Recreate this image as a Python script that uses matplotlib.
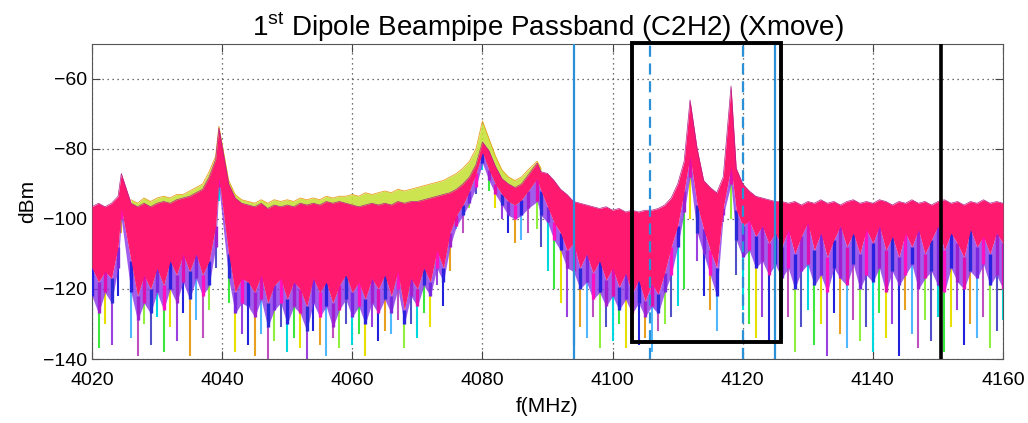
import numpy as np
import matplotlib
matplotlib.use("Agg")
import matplotlib.pyplot as plt
import matplotlib.patches as patches

plt.rcParams["font.family"] = ["Liberation Sans Narrow", "Liberation Sans", "DejaVu Sans"]
plt.rcParams["mathtext.fontset"] = "custom"
plt.rcParams["mathtext.rm"] = "Liberation Sans"

# frequency grid (MHz), 1 MHz steps with the resonance peaks at their read positions
freq = np.arange(4020, 4161).astype(float)
peak_idx = [5, 20, 68, 92, 98]
peak_freq = [4024.5, 4039.5, 4088.4, 4111.9, 4118.2]
freq[peak_idx] = peak_freq

# upper envelope of the bulk of the traces (dBm)
top = [
    -96.5, -95.5, -96.5, -95.5, -93.5, -87, -95.5, -96.5, -95.5, -96.5,
    -95.5, -95, -95.5, -94.5, -94, -93.5, -92.5, -91.5, -88, -83,
    -74, -90, -94, -95.5, -96, -96.5, -95.5, -97, -96, -96.5,
    -96, -96.5, -95.5, -96, -95.5, -96, -95, -95.5, -95, -95.5,
    -96, -96.5, -96, -95.5, -96, -95.5, -96, -95, -95.5, -95,
    -95, -94.5, -94, -93.5, -93, -92.5, -91.5, -90, -88, -84.5,
    -78, -80.5, -85, -88.5, -90, -91, -90, -87.5, -84, -86.5,
    -87, -89, -91.5, -93, -95, -95.5, -96, -96.5, -97, -96.5,
    -97.5, -97, -98, -97.5, -98, -97.5, -97.5, -97, -96, -94,
    -90, -83.5, -66, -80, -89, -91, -92.5, -88, -62, -85.5,
    -90, -92, -93.5, -94, -94.5, -95, -95, -95.5, -95, -96,
    -95, -95.5, -94.5, -95.5, -95, -96, -95, -94.5, -95.5, -95,
    -95.5, -94.5, -95, -96, -95, -95.5, -94.5, -95.5, -95, -96,
    -95, -94.5, -95.5, -95, -96, -95, -95.5, -94.5, -95.5, -95, -95.5,
]

# lower edge of the dense pink/red traces
pink_low = [
    -114, -118, -115, -117, -108, -97, -112, -122, -116, -120,
    -114, -119, -112, -116, -110, -115, -110, -116, -112, -102,
    -88, -110, -121, -117, -118, -121, -116, -124, -119, -117,
    -123, -118, -120, -125, -117, -121, -118, -124, -119, -116,
    -121, -118, -123, -117, -120, -116, -122, -115, -126, -117,
    -120, -114, -118, -109, -114, -104, -99, -96, -92, -87,
    -81, -86, -90, -93, -95, -96, -94.5, -92, -88.5, -92,
    -96.5, -101, -104, -109, -107, -114, -110, -115.5, -112, -117.5,
    -114, -119.5, -115.5, -121.5, -117.5, -123.5, -118.5, -121.5, -115.5, -108,
    -102, -92, -82, -96, -103, -109, -114, -97, -85, -97.5,
    -102, -100.5, -105, -102, -107, -104, -108, -103, -110, -105,
    -101, -109, -104, -111, -106, -102, -108, -104, -110, -103,
    -107, -102, -109, -105, -111, -104, -108, -103, -110, -106,
    -102, -109, -104, -107, -111, -103, -108, -105, -110, -104, -107,
]

# lower edge of the blue/purple traces
blue_low = [
    -122, -127, -121, -124, -114, -100, -121, -129, -124, -127,
    -121, -126, -120, -124, -118, -123, -117, -122, -119, -108,
    -91, -117, -127, -124, -125, -128, -123, -131, -126, -124,
    -130, -125, -127, -132, -124, -128, -125, -131, -126, -123,
    -128, -125, -130, -124, -127, -123, -127, -120, -130, -122,
    -125, -119, -122, -114, -118, -108, -102, -99, -95.5, -91,
    -84, -89, -93, -96, -99, -100, -99, -97, -95, -99,
    -101, -106, -109, -114, -115, -120, -118, -123, -121, -125,
    -122, -126, -123, -127, -124, -128, -125, -127, -121, -116,
    -108, -98, -88, -104, -110, -116, -122, -99, -90, -106,
    -111, -109, -114, -112, -116, -113, -117, -114, -120, -115,
    -113, -119, -116, -121, -114, -117, -119, -113, -120, -116,
    -118, -114, -121, -115, -119, -116, -113, -120, -117, -115,
    -119, -121, -114, -118, -120, -115, -117, -113, -119, -116, -120,
]

# deepest dips of the individual traces
deep_low = [
    -133, -137, -130, -136, -122, -104, -134, -139, -130, -136,
    -128, -138, -131, -135, -127, -139, -129, -134, -126, -114,
    -95, -124, -138, -133, -136, -139, -133, -140, -135, -131,
    -138, -134, -137, -140, -132, -136, -139, -134, -137, -130,
    -136, -133, -139, -131, -135, -132, -133, -129, -137, -130,
    -134, -127, -131, -119, -125, -115, -103, -104, -97, -93,
    -86, -92, -97, -100, -104, -107, -106, -104, -103, -108,
    -115, -120, -124, -128, -136, -131, -134, -128, -137, -131,
    -135, -130, -137, -133, -136, -134, -138, -132, -130, -128,
    -125, -120, -100, -112, -122, -126, -132, -101, -100, -116,
    -126, -130, -134, -128, -135, -131, -134, -128, -138, -131,
    -126, -136, -130, -139, -127, -133, -137, -129, -135, -131,
    -138, -127, -134, -130, -139, -126, -133, -137, -129, -135,
    -128, -138, -131, -126, -136, -130, -134, -128, -137, -132, -129,
]

# yellow/green traces sticking out above the bulk, 4026..4089 MHz
fringe_top = [
    -94.5, -95.5, -94, -95, -94, -93.5, -94, -93, -93, -92,
    -91, -90, -86.5, -82, -73.5, -89, -93, -94.5,
    -95, -95.5, -94.5, -95.5, -94.5, -95, -94.5, -95, -94, -94.5, -94, -94.5, -93.5, -94, -93.5, -93.5,
    -93, -93.5, -92.5, -93, -92.5, -92, -92.5, -91.5, -92, -91.5,
    -91, -90.5, -90, -89.5, -89, -88, -87, -85.5, -83.5, -80,
    -72, -77, -82, -86, -88, -89, -88, -86, -83.5, -85.5,
]
fringe_slice = slice(6, 70)

# marker lines (MHz)
solid_marks = [4094.1, 4125.0]
dashed_marks = [4105.8, 4120.0]
black_mark = 4150.5
box_f = (4103.0, 4125.9)
box_db = (-135.1, -49.8)

palette = ["#00d8e0", "#3ce83c", "#e8e000", "#9a3fe0", "#2222dd", "#e8a020",
           "#50b8ff", "#c050c0", "#90f040", "#5050c8"]
mid_palette = ["#2a20e0", "#a020d0", "#e010b0", "#2a2ad8", "#7a28e0", "#ff10c0"]

fig = plt.figure(figsize=(10.28, 4.23), dpi=100)
ax = fig.add_axes([0.0895, 0.1513, 0.8862, 0.7447])

f = freq
colors = [palette[i % len(palette)] for i in range(len(f))]
mid_colors = [mid_palette[i % len(mid_palette)] for i in range(len(f))]
ax.vlines(f, deep_low, blue_low, colors=colors, lw=1.5, zorder=1)
ax.fill_between(f[fringe_slice], fringe_top, np.array(pink_low)[fringe_slice],
                color="#c4e030", alpha=0.85, lw=0, zorder=2)
ax.plot(f[fringe_slice], fringe_top, color="#e8a020", lw=0.6, zorder=2)
ax.fill_between(f, pink_low, blue_low, color="#8a34e6", alpha=0.8, lw=0, zorder=3)
ax.vlines(f, blue_low, pink_low, colors=mid_colors, lw=2.4, zorder=3)
ax.fill_between(f, top, pink_low, color="#ff1a70", lw=0, zorder=4)
ax.plot(f, top, color="#b0208a", lw=0.5, zorder=4)

for x in solid_marks:
    ax.axvline(x, color="#2a90d8", lw=1.6, zorder=5)
for x in dashed_marks:
    ax.axvline(x, color="#2a90d8", lw=1.6, ls=(0, (5, 3)), zorder=5)
ax.axvline(black_mark, color="black", lw=2.6, zorder=6)
rect = patches.Rectangle((box_f[0], box_db[0]), box_f[1] - box_f[0], box_db[1] - box_db[0],
                         fill=False, edgecolor="black", lw=2.8, zorder=7, clip_on=False)
ax.add_patch(rect)

ax.set_xlim(4020, 4160)
ax.set_ylim(-140, -50)
ax.set_xticks(np.arange(4020, 4161, 20))
ax.set_yticks(np.arange(-140, -59, 20))
ax.set_axisbelow(True)
ax.grid(True, color="#444444", ls=(0, (1, 3)), lw=0.9)
ax.tick_params(direction="in", length=6, top=True, right=True, labelsize=14, color="#444444")
ax.tick_params(axis="x", pad=9)
for s in ax.spines.values():
    s.set_color("#555555")
ax.set_xlabel("f(MHz)", fontsize=15, labelpad=6)
ax.set_ylabel("dBm", fontsize=15, labelpad=4)
ax.set_title(r"1$^{\rm st}$ Dipole Beampipe Passband (C2H2) (Xmove)", fontsize=20, pad=6)

fig.savefig("out.png", dpi=100)
